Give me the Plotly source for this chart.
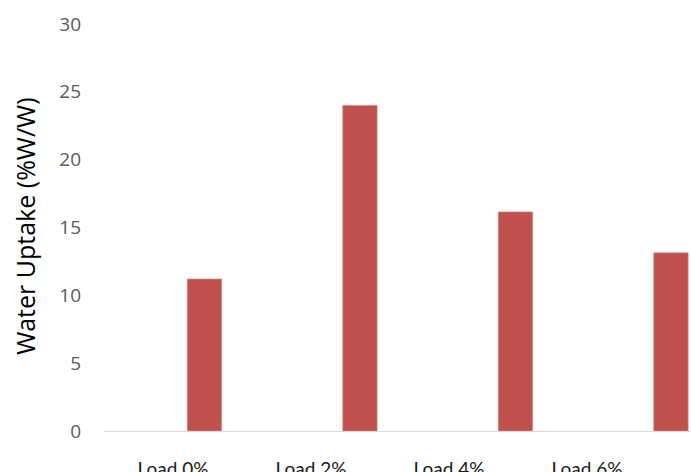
import plotly.graph_objects as go

# Water uptake per filler loading
categories = ["Load 0%", "Load 2%", "Load 4%", "Load 6%"]
uptake = [11.2, 24.0, 16.15, 13.13]
y_ticks = [0, 5, 10, 15, 20, 25, 30]

bar_color = "#C0504D"
idx = list(range(len(categories)))

fig = go.Figure()
fig.add_trace(go.Bar(
    x=idx,
    y=uptake,
    width=0.221,
    marker=dict(color=bar_color, line=dict(color="#d48a88", width=0.7)),
    xaxis="x",
    yaxis="y",
    showlegend=False,
))
# invisible helper trace carrying the category labels on the secondary x axis
fig.add_trace(go.Scatter(
    x=idx, y=[0] * len(idx), mode="markers",
    marker=dict(opacity=0), xaxis="x2", yaxis="y",
    showlegend=False, hoverinfo="skip",
))

fig.update_layout(
    width=691,
    height=472,
    margin=dict(l=104, r=0, t=24, b=41, autoexpand=False),
    paper_bgcolor="white",
    plot_bgcolor="white",
    xaxis=dict(
        range=[-0.646, 3.129],
        showticklabels=False,
        showgrid=False,
        zeroline=False,
        showline=True,
        linecolor="#d9d9d9",
        linewidth=1,
        automargin=False,
    ),
    xaxis2=dict(
        overlaying="x",
        anchor="y",
        side="bottom",
        range=[-0.5, 3.754],
        tickvals=idx,
        ticktext=categories,
        showgrid=False,
        zeroline=False,
        showline=False,
        ticks="",
        ticklabelstandoff=25,
        automargin=False,
        tickfont=dict(family="Lato", size=19, color="#1a1a1a"),
    ),
    yaxis=dict(
        range=[0, 30],
        tickvals=y_ticks,
        showgrid=False,
        zeroline=False,
        showline=False,
        ticks="",
        ticklabelstandoff=22,
        automargin=False,
        tickfont=dict(family="Open Sans", size=19, color="#595959"),
    ),
    annotations=[dict(
        text="Water Uptake (%W/W)",
        textangle=-90,
        xref="paper", yref="paper",
        x=-0.1346, y=0.504,
        xanchor="center", yanchor="middle",
        showarrow=False,
        font=dict(family="Open Sans", size=25, color="#000000"),
    )],
)

fig.write_html("out.html")
